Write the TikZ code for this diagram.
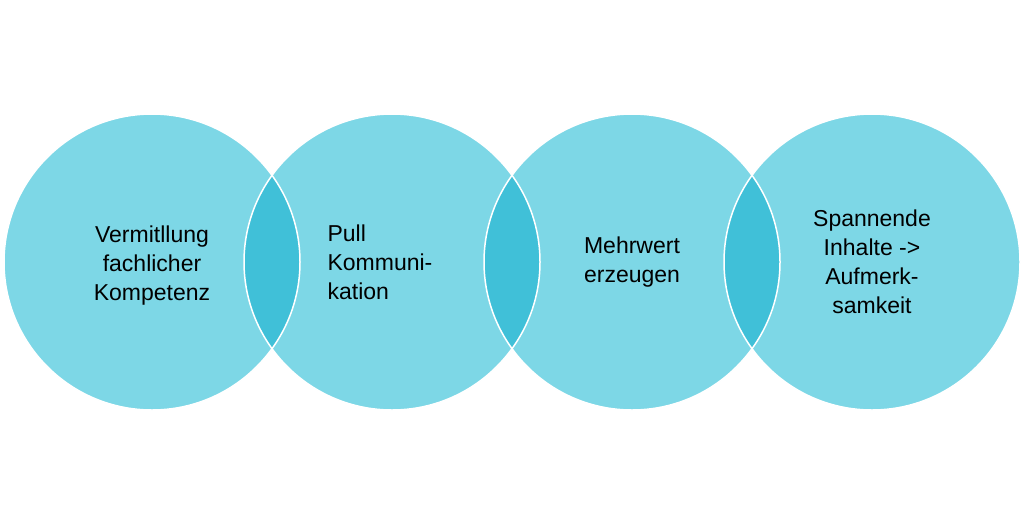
\documentclass[tikz,border=0pt]{standalone}
\usepackage{fontspec}
\setmainfont{Liberation Sans}
\definecolor{circ}{HTML}{7DD7E6}
\definecolor{lens}{HTML}{40C0D8}
\begin{document}
\begin{tikzpicture}[x=1pt,y=-1pt,
  lbl/.style={align=center,font=\fontsize{23}{29}\selectfont,text=black}]
\useasboundingbox (0,0) rectangle (1024,530);
\def\R{148}
\foreach \i/\x in {1/152,2/392,3/632,4/872}{
  \fill[circ] (\x,262) circle (\R);
}
\foreach \a/\b in {152/392,392/632,632/872}{
  \begin{scope}
    \clip (\a,262) circle (\R);
    \fill[lens] (\b,262) circle (\R);
  \end{scope}
}
\foreach \x in {152,392,632,872}{
  \draw[white,line width=1.5pt] (\x,262) circle (\R);
}
\node[lbl] (t1) at (152,266) {Vermitllung\\fachlicher\\Kompetenz};
\node[lbl,align=left] (t2) at (380,262) {Pull\\Kommuni-\\kation};
\node[lbl] (t3) at (632,262) {Mehrwert\\erzeugen};
\node[lbl] (t4) at (872,262) {Spannende\\Inhalte ->\\Aufmerk-\\samkeit};
\end{tikzpicture}
\end{document}
